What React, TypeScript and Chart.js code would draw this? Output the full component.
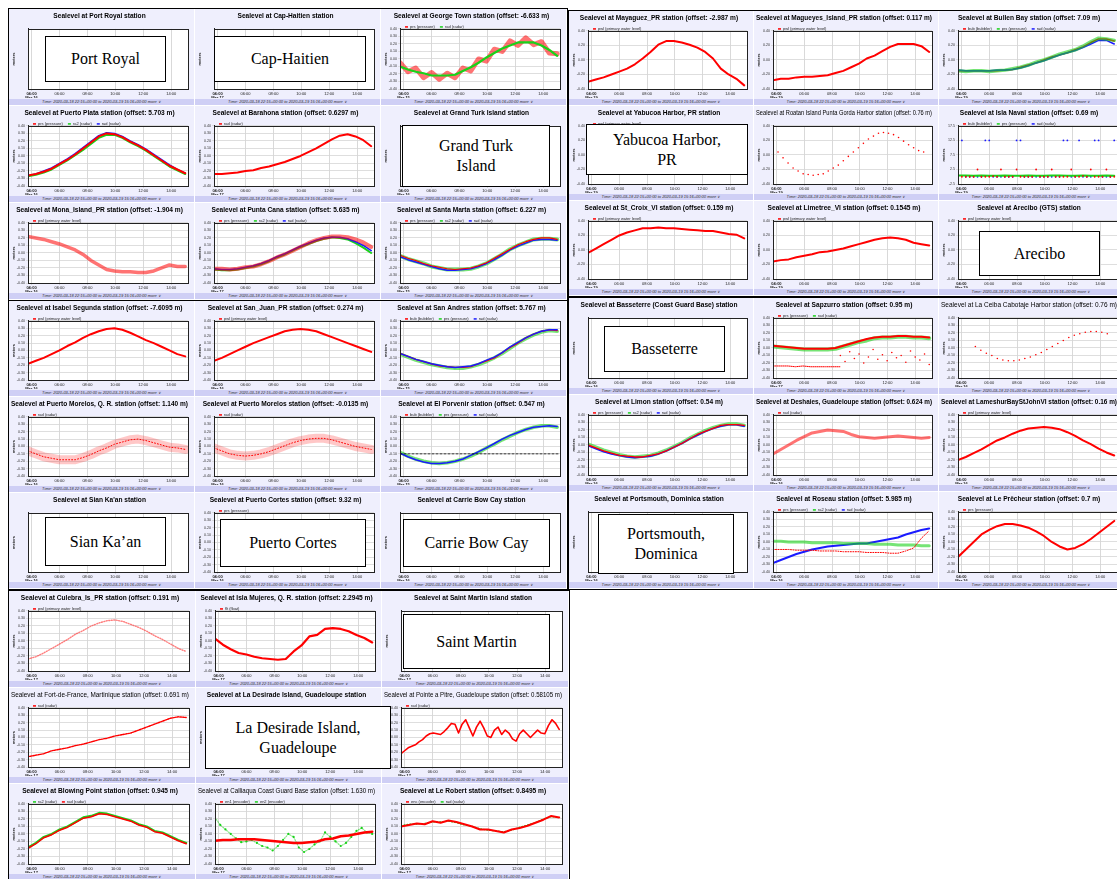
import React, { useEffect, useRef } from 'react';
import { Chart, registerables } from 'chart.js';

Chart.register(...registerables);
Chart.defaults.font.family = "'Liberation Sans', Arial, sans-serif";

// ---------- colours ----------
const RED = '#ff0000';
const RED_BAND = 'rgba(255,0,0,0.55)';
const RED_WIDE = 'rgba(255,0,0,0.22)';
const GREEN = '#19d219';
const GREEN_BAND = 'rgba(25,210,25,0.6)';
const BLUE = '#1a1aff';
const PINK = 'rgba(255,70,70,0.7)';
const CELL_BG = '#efeffd';
const FOOT_BG = '#cfcff5';

// ---------- axes ----------
const X_MIN = 3.75;
const X_MAX = 15.2;
const DATA_END = 15.0;
const HOUR_TICKS = [4, 6, 8, 10, 12, 14];
const Y_DEFAULT: [number, number, number] = [-0.4, 0.4, 0.1];
const Y_NAVAL: [number, number, number] = [-2.5, 17.5, 2.5];
const FOOTER = 'Time: 2020-03-18 22:15+00:00 to 2020-03-19 15:16+00:00        more \u2228';

// ---------- data (metres, evenly spaced in time) ----------
const georgeTownPrs = [-0.05, -0.17, -0.12, -0.25, -0.18, -0.27, -0.19, -0.25, -0.12, -0.16, 0.0, -0.03, 0.13, 0.1, 0.24, 0.18, 0.28, 0.19, 0.23, 0.08, 0.07];
const georgeTownRad = [-0.1, -0.14, -0.17, -0.19, -0.22, -0.22, -0.22, -0.21, -0.16, -0.11, -0.05, 0.02, 0.08, 0.14, 0.18, 0.22, 0.22, 0.22, 0.18, 0.12, 0.04];

const puertoPlataPrs = [-0.26, -0.24, -0.21, -0.17, -0.11, -0.05, 0.02, 0.1, 0.18, 0.26, 0.3, 0.29, 0.25, 0.19, 0.14, 0.08, 0.01, -0.06, -0.13, -0.18, -0.23];
const puertoPlataRa2 = [-0.27, -0.25, -0.22, -0.18, -0.12, -0.06, 0.01, 0.08, 0.16, 0.24, 0.28, 0.28, 0.24, 0.18, 0.13, 0.07, 0.0, -0.07, -0.14, -0.19, -0.24];
const puertoPlataRad = [-0.26, -0.24, -0.2, -0.16, -0.1, -0.04, 0.03, 0.11, 0.19, 0.27, 0.31, 0.3, 0.26, 0.2, 0.15, 0.09, 0.02, -0.05, -0.12, -0.18, -0.23];

const barahonaRad = [-0.24, -0.24, -0.23, -0.22, -0.2, -0.19, -0.16, -0.14, -0.11, -0.08, -0.04, 0.0, 0.05, 0.1, 0.16, 0.22, 0.27, 0.29, 0.26, 0.21, 0.13];

const monaPwl = [0.22, 0.2, 0.18, 0.15, 0.12, 0.08, 0.04, -0.02, -0.1, -0.16, -0.22, -0.24, -0.25, -0.25, -0.26, -0.26, -0.24, -0.2, -0.16, -0.18, -0.18];

const puntaCanaPrs = [-0.21, -0.21, -0.22, -0.21, -0.19, -0.18, -0.15, -0.11, -0.06, -0.02, 0.03, 0.08, 0.13, 0.17, 0.2, 0.22, 0.22, 0.21, 0.18, 0.14, 0.08];
const puntaCanaRa2 = [-0.22, -0.23, -0.23, -0.22, -0.2, -0.18, -0.15, -0.11, -0.06, -0.02, 0.03, 0.08, 0.12, 0.16, 0.19, 0.21, 0.2, 0.18, 0.13, 0.07, 0.0];
const puntaCanaRad = [-0.21, -0.22, -0.22, -0.21, -0.19, -0.17, -0.14, -0.1, -0.05, -0.01, 0.04, 0.09, 0.13, 0.17, 0.2, 0.21, 0.21, 0.19, 0.15, 0.1, 0.03];

const santaMartaPrs = [-0.03, -0.07, -0.1, -0.14, -0.17, -0.19, -0.21, -0.22, -0.21, -0.2, -0.17, -0.13, -0.07, -0.01, 0.05, 0.11, 0.15, 0.18, 0.2, 0.2, 0.18];
const santaMartaRa2 = [-0.04, -0.08, -0.11, -0.14, -0.18, -0.2, -0.22, -0.22, -0.22, -0.21, -0.18, -0.14, -0.08, -0.02, 0.05, 0.1, 0.14, 0.18, 0.19, 0.19, 0.18];
const santaMartaRad = [-0.05, -0.09, -0.12, -0.15, -0.18, -0.21, -0.23, -0.23, -0.22, -0.21, -0.18, -0.14, -0.09, -0.03, 0.04, 0.09, 0.13, 0.17, 0.18, 0.18, 0.17];

const mayaguezPwl = [-0.3, -0.27, -0.24, -0.2, -0.16, -0.12, -0.06, 0.02, 0.11, 0.21, 0.26, 0.26, 0.24, 0.21, 0.17, 0.11, 0.02, -0.12, -0.2, -0.26, -0.35];
const magueyesPwl = [-0.28, -0.26, -0.26, -0.24, -0.23, -0.23, -0.22, -0.21, -0.18, -0.15, -0.1, -0.05, 0.02, 0.06, 0.12, 0.18, 0.22, 0.22, 0.22, 0.19, 0.11];

const bullenBub = [-0.15, -0.15, -0.15, -0.15, -0.15, -0.15, -0.14, -0.13, -0.1, -0.07, -0.04, 0.0, 0.04, 0.07, 0.1, 0.14, 0.18, 0.24, 0.29, 0.29, 0.26];
const bullenPrs = [-0.15, -0.16, -0.15, -0.15, -0.16, -0.15, -0.14, -0.12, -0.1, -0.07, -0.03, 0.0, 0.04, 0.08, 0.11, 0.14, 0.19, 0.25, 0.3, 0.29, 0.27];
const bullenRad = [-0.14, -0.15, -0.15, -0.15, -0.15, -0.14, -0.14, -0.13, -0.11, -0.08, -0.04, -0.01, 0.03, 0.07, 0.1, 0.13, 0.17, 0.22, 0.27, 0.27, 0.22];

const roatanRad = [0.1, 0.04, -0.04, -0.11, -0.18, -0.22, -0.26, -0.27, -0.28, -0.27, -0.26, -0.22, -0.18, -0.14, -0.08, -0.02, 0.04, 0.1, 0.16, 0.22, 0.26, 0.3, 0.31, 0.3, 0.28, 0.24, 0.19, 0.14, 0.1, 0.06, 0.04];

const islaNavalBub = [2.5, 0, 0, 0, 0, 2.5, 0, 0, 0, 0.2, 0, 2.5, 0, 0, 0, 2.5, 0, 0, 0, 0, 2.5, 0, 0, 0, 2.5, 0, 0, 0, 0, 2.5, 0, 0, 0.3, 0, 2.5, 0, 0, 0, 2.5, 0, 0];
const islaNavalPrs = [0.4, 0.4, 0.3, 0.4, 0.3, 0.3, 0.4, 0.3, 0.3, 0.4, 0.3, 0.3, 0.4, 0.4, 0.3, 0.3, 0.4, 0.3, 0.3, 0.4, 0.3];
const islaNavalRad = [0, 12.5, 0, 0, 0, 0, 0, 12.5, 12.5, 0, 0, 0, 0, 0, 0, 12.5, 12.5, 0, 0, 0, 0, 0, 0, 0, 0, 0, 0, 12.5, 12.5, 0, 0, 12.5, 0, 0, 0, 12.5, 12.5, 0, 0, 0, 12.5];

const stCroixPwl = [-0.04, 0.02, 0.08, 0.14, 0.2, 0.24, 0.27, 0.3, 0.3, 0.31, 0.3, 0.3, 0.29, 0.28, 0.27, 0.26, 0.26, 0.24, 0.22, 0.21, 0.16];
const limetreePwl = [-0.16, -0.14, -0.13, -0.1, -0.08, -0.06, -0.03, -0.02, 0.0, 0.02, 0.05, 0.08, 0.11, 0.14, 0.16, 0.17, 0.16, 0.14, 0.1, 0.08, 0.06];

const isabelPwl = [-0.18, -0.14, -0.1, -0.05, 0.0, 0.06, 0.11, 0.17, 0.22, 0.26, 0.29, 0.3, 0.28, 0.24, 0.19, 0.14, 0.1, 0.05, 0.0, -0.05, -0.08];
const sanJuanPwl = [-0.14, -0.1, -0.05, 0.0, 0.05, 0.1, 0.14, 0.18, 0.22, 0.26, 0.28, 0.29, 0.28, 0.26, 0.22, 0.18, 0.14, 0.1, 0.06, 0.02, -0.02];

const sanAndresBub = [-0.04, -0.08, -0.12, -0.15, -0.18, -0.21, -0.22, -0.23, -0.23, -0.22, -0.18, -0.14, -0.1, -0.03, 0.04, 0.1, 0.17, 0.22, 0.26, 0.28, 0.27];
const sanAndresPrs = [-0.05, -0.09, -0.13, -0.16, -0.19, -0.21, -0.23, -0.24, -0.24, -0.22, -0.19, -0.15, -0.1, -0.04, 0.03, 0.1, 0.16, 0.21, 0.25, 0.27, 0.26];
const sanAndresRad = [-0.04, -0.08, -0.12, -0.15, -0.18, -0.2, -0.22, -0.23, -0.22, -0.21, -0.18, -0.13, -0.09, -0.03, 0.05, 0.11, 0.17, 0.22, 0.26, 0.28, 0.28];

const morelosQrRad = [-0.06, -0.1, -0.14, -0.16, -0.18, -0.18, -0.18, -0.15, -0.11, -0.06, -0.02, 0.03, 0.06, 0.09, 0.1, 0.08, 0.05, 0.02, -0.01, -0.02, -0.04];
const morelosRad = [-0.02, -0.06, -0.1, -0.12, -0.13, -0.12, -0.1, -0.07, -0.03, 0.01, 0.05, 0.08, 0.1, 0.11, 0.11, 0.09, 0.06, 0.03, 0.0, -0.02, -0.04];

const porvenirPrs = [-0.08, -0.13, -0.17, -0.2, -0.22, -0.23, -0.22, -0.2, -0.17, -0.13, -0.08, -0.02, 0.03, 0.09, 0.14, 0.19, 0.23, 0.26, 0.28, 0.28, 0.26];
const porvenirRad = [-0.09, -0.14, -0.18, -0.21, -0.23, -0.23, -0.22, -0.2, -0.17, -0.12, -0.07, -0.02, 0.04, 0.1, 0.15, 0.19, 0.23, 0.26, 0.27, 0.28, 0.27];
const porvenirRef = [-0.1, -0.1];

const sapzurroPrs = [0.03, 0.02, 0.01, 0.0, -0.01, -0.01, -0.01, -0.01, 0.0, 0.03, 0.06, 0.09, 0.12, 0.14, 0.15, 0.15, 0.16, 0.16, 0.15, 0.15, 0.14];
const sapzurroRad = [0.02, 0.01, 0.0, -0.01, -0.02, -0.02, -0.02, -0.02, -0.01, 0.02, 0.05, 0.08, 0.1, 0.13, 0.14, 0.14, 0.15, 0.15, 0.14, 0.14, 0.13];
const sapzurroLow = [-0.24, -0.24, -0.24, -0.25, -0.24, -0.25, -0.25, -0.25, -0.25, -0.25];
const sapzurroOut = [-0.1, -0.18, -0.05, -0.14, -0.08, -0.2, -0.12, -0.02, -0.15, -0.09, -0.17, -0.06, -0.13, -0.1, -0.19, -0.04, -0.12, -0.16, -0.08, -0.22];

const laCeibaRad = [0.02, -0.03, -0.07, -0.1, -0.14, -0.16, -0.17, -0.17, -0.16, -0.14, -0.12, -0.09, -0.06, -0.02, 0.02, 0.06, 0.1, 0.14, 0.17, 0.19, 0.21, 0.22, 0.22, 0.21, 0.19];

const limonPrs = [0.0, -0.04, -0.08, -0.11, -0.14, -0.15, -0.16, -0.16, -0.14, -0.12, -0.08, -0.03, 0.02, 0.08, 0.14, 0.18, 0.22, 0.26, 0.27, 0.27, 0.26];
const limonRa2 = [0.01, -0.03, -0.07, -0.1, -0.13, -0.15, -0.16, -0.15, -0.14, -0.11, -0.07, -0.02, 0.03, 0.09, 0.14, 0.19, 0.23, 0.26, 0.28, 0.28, 0.26];
const limonRad = [-0.01, -0.05, -0.09, -0.12, -0.14, -0.16, -0.17, -0.16, -0.15, -0.12, -0.08, -0.03, 0.02, 0.08, 0.13, 0.18, 0.22, 0.25, 0.27, 0.27, 0.25];

const deshaiesRad = [-0.12, -0.06, 0.0, 0.06, 0.11, 0.16, 0.18, 0.2, 0.19, 0.18, 0.14, 0.11, 0.1, 0.09, 0.1, 0.11, 0.12, 0.11, 0.1, 0.09, 0.1];
const lameshurPwl = [-0.2, -0.16, -0.11, -0.06, 0.0, 0.06, 0.1, 0.15, 0.19, 0.22, 0.23, 0.24, 0.23, 0.21, 0.17, 0.12, 0.06, 0.01, -0.05, -0.1, -0.14];

const roseauPrs = [-0.1, -0.1, -0.1, -0.11, -0.11, -0.11, -0.12, -0.12, -0.12, -0.13, -0.13, -0.13, -0.14, -0.14, -0.14, -0.15, -0.15, -0.12, -0.08, 0.05, 0.15];
const roseauRa2 = [0.01, 0.01, 0.0, 0.0, 0.0, -0.01, -0.01, -0.01, -0.01, -0.02, -0.02, -0.02, -0.02, -0.03, -0.03, -0.03, -0.04, -0.04, -0.04, -0.05, -0.05];
const roseauRad = [-0.28, -0.24, -0.2, -0.16, -0.13, -0.1, -0.08, -0.06, -0.05, -0.04, -0.03, -0.02, -0.02, 0.0, 0.02, 0.04, 0.06, 0.1, 0.13, 0.16, 0.18];

const precheurPrs = [-0.2, -0.1, 0.0, 0.1, 0.16, 0.21, 0.24, 0.24, 0.22, 0.19, 0.14, 0.08, 0.0, -0.06, -0.1, -0.08, -0.03, 0.04, 0.12, 0.2, 0.28];

const culebraPwl = [-0.24, -0.21, -0.16, -0.1, -0.04, 0.02, 0.09, 0.14, 0.2, 0.24, 0.27, 0.28, 0.26, 0.22, 0.18, 0.13, 0.07, 0.02, -0.04, -0.1, -0.14];
const islaMujeresFlt = [0.03, -0.05, -0.11, -0.16, -0.18, -0.21, -0.23, -0.24, -0.25, -0.24, -0.14, -0.06, 0.06, 0.08, 0.16, 0.17, 0.16, 0.13, 0.08, 0.04, -0.02];

const fortDeFranceRad = [-0.26, -0.24, -0.22, -0.18, -0.16, -0.14, -0.11, -0.09, -0.06, -0.03, -0.01, 0.02, 0.04, 0.06, 0.1, 0.14, 0.18, 0.22, 0.26, 0.28, 0.27];
const pointeAPitreRad = [-0.22, -0.18, -0.14, -0.12, -0.1, -0.06, -0.03, 0.02, 0.05, 0.06, 0.05, 0.04, 0.08, 0.13, 0.19, 0.18, 0.06, 0.18, 0.24, 0.13, 0.02, 0.14, 0.22, 0.13, 0.02, 0.0, 0.1, 0.14, 0.04, 0.1, 0.06, -0.02, -0.05, 0.05, 0.1, 0.05, 0.0, 0.05, 0.1, 0.06, 0.05, 0.16, 0.24, 0.19, 0.11];

const blowingRa2 = [-0.18, -0.12, -0.04, 0.0, 0.06, 0.1, 0.16, 0.22, 0.24, 0.28, 0.27, 0.24, 0.21, 0.18, 0.13, 0.1, 0.04, 0.02, -0.03, -0.08, -0.12];
const blowingRad = [-0.19, -0.13, -0.05, -0.01, 0.05, 0.09, 0.15, 0.21, 0.23, 0.27, 0.26, 0.23, 0.2, 0.17, 0.12, 0.09, 0.03, 0.01, -0.04, -0.09, -0.13];

const calliaquaEn1 = [-0.09, -0.08, -0.08, -0.07, -0.07, -0.07, -0.08, -0.09, -0.1, -0.11, -0.12, -0.12, -0.11, -0.1, -0.07, -0.06, -0.03, -0.02, 0.0, 0.02, 0.03];
const calliaquaEn2 = [0.22, 0.12, 0.06, 0.0, -0.06, -0.11, -0.1, -0.08, -0.12, -0.16, -0.18, -0.22, -0.16, -0.08, 0.0, -0.04, -0.18, -0.24, -0.2, -0.14, -0.1, 0.02, -0.04, -0.1, -0.16, -0.12, -0.04, 0.04, 0.08, 0.02, 0.0];

const leRobertEnc = [0.1, 0.12, 0.14, 0.13, 0.17, 0.15, 0.18, 0.16, 0.13, 0.1, 0.06, 0.06, 0.04, 0.02, 0.06, 0.08, 0.11, 0.15, 0.19, 0.24, 0.22];
const leRobertRad = [0.11, 0.13, 0.13, 0.14, 0.16, 0.16, 0.17, 0.15, 0.12, 0.1, 0.07, 0.05, 0.04, 0.03, 0.05, 0.09, 0.12, 0.15, 0.2, 0.23, 0.22];

const EMPTY: number[] = [];

// ---------- types ----------
type Kind = 'line' | 'dots' | 'band';
interface Ser {
  label: string;
  color: string;
  key?: string;
  data: number[];
  kind?: Kind;
  width?: number;
  radius?: number;
  t0?: number;
  t1?: number;
  hide?: boolean;
  dash?: number[];
  order?: number;
}
interface Spec {
  title: string;
  weight?: 'bold' | 'normal';
  series: Ser[];
  y?: [number, number, number];
  date: string;
  yTicks?: boolean;
}

const S = (label: string, color: string, data: number[], extra: Partial<Ser> = {}): Ser => ({ label, color, data, ...extra });

// ---------- block specs ----------
const BLOCK_A: Spec[] = [
  { title: 'Sealevel at Port Royal station', series: [], date: 'Mar 16', yTicks: false },
  { title: 'Sealevel at Cap-Haitien station', series: [], date: 'Mar 17', yTicks: false },
  {
    title: 'Sealevel at George Town station (offset: -6.633 m)', date: 'Mar 15',
    series: [
      S('prs (pressure)', RED_BAND, georgeTownPrs, { kind: 'band', width: 5, key: RED, order: 2 }),
      S('rad (radar)', GREEN, georgeTownRad, { width: 2.2, order: 1 }),
    ],
  },
  {
    title: 'Sealevel at Puerto Plata station (offset: 5.703 m)', date: 'Mar 16',
    series: [
      S('prs (pressure)', RED, puertoPlataPrs, { width: 2, order: 1 }),
      S('ra2 (radar)', GREEN, puertoPlataRa2, { width: 2, order: 2 }),
      S('rad (radar)', BLUE, puertoPlataRad, { width: 1.5, order: 3 }),
    ],
  },
  { title: 'Sealevel at Barahona station (offset: 0.6297 m)', date: 'Mar 17', series: [S('rad (radar)', RED, barahonaRad, { width: 2 })] },
  { title: 'Sealevel at Grand Turk Island station', series: [], date: 'Mar 16', yTicks: false },
  { title: 'Sealevel at Mona_Island_PR station (offset: -1.904 m)', date: 'Mar 16', series: [S('pwl (primary water level)', RED_BAND, monaPwl, { kind: 'band', width: 3.5, key: RED })] },
  {
    title: 'Sealevel at Punta Cana station (offset: 5.635 m)', date: 'Mar 17',
    series: [
      S('prs (pressure)', RED_BAND, puntaCanaPrs, { kind: 'band', width: 4, key: RED, order: 1 }),
      S('ra2 (radar)', GREEN, puntaCanaRa2, { width: 2, order: 3 }),
      S('rad (radar)', BLUE, puntaCanaRad, { width: 1.5, order: 2 }),
    ],
  },
  {
    title: 'Sealevel at Santa Marta station (offset: 6.227 m)', date: 'Mar 15',
    series: [
      S('prs (pressure)', RED, santaMartaPrs, { width: 1.2, order: 1 }),
      S('ra2 (radar)', GREEN_BAND, santaMartaRa2, { kind: 'band', width: 4, key: GREEN, order: 3 }),
      S('rad (radar)', BLUE, santaMartaRad, { width: 1.4, order: 2 }),
    ],
  },
];

const BLOCK_B: Spec[] = [
  { title: 'Sealevel at Mayaguez_PR station (offset: -2.987 m)', date: 'Mar 19', series: [S('pwl (primary water level)', RED, mayaguezPwl, { width: 2 })] },
  { title: 'Sealevel at Magueyes_Island_PR station (offset: 0.117 m)', date: 'Mar 19', series: [S('pwl (primary water level)', RED, magueyesPwl, { width: 2 })] },
  {
    title: 'Sealevel at Bullen Bay station (offset: 7.09 m)', date: 'Mar 19',
    series: [
      S('bub (bubbler)', RED, bullenBub, { width: 1.5, order: 3 }),
      S('prs (pressure)', GREEN_BAND, bullenPrs, { kind: 'band', width: 3.5, key: GREEN, order: 1 }),
      S('rad (radar)', BLUE, bullenRad, { width: 1.6, order: 2 }),
    ],
  },
  { title: 'Sealevel at Yabucoa Harbor, PR station', date: 'Mar 19', series: [S('pwl (primary water level)', RED, EMPTY)] },
  { title: 'Sealevel at Roatan Island Punta Gorda Harbor station (offset: 0.76 m)', weight: 'normal', date: 'Mar 19', series: [S('', RED, roatanRad, { kind: 'dots', radius: 0.8, t1: 14.6, hide: true })] },
  {
    title: 'Sealevel at Isla Naval station (offset: 0.69 m)', date: 'Mar 19', y: Y_NAVAL,
    series: [
      S('bub (bubbler)', RED, islaNavalBub, { kind: 'dots', radius: 0.9 }),
      S('prs (pressure)', GREEN, islaNavalPrs, { width: 2 }),
      S('rad (radar)', BLUE, islaNavalRad, { kind: 'dots', radius: 0.9 }),
    ],
  },
  { title: 'Sealevel at St_Croix_VI station (offset: 0.159 m)', date: 'Mar 19', series: [S('pwl (primary water level)', RED, stCroixPwl, { width: 2 })] },
  { title: 'Sealevel at Limetree_VI station (offset: 0.1545 m)', date: 'Mar 19', series: [S('pwl (primary water level)', RED, limetreePwl, { width: 2 })] },
  { title: 'Sealevel at Arecibo (GTS) station', date: 'Mar 19', series: [S('pwl (primary water level)', RED, EMPTY)] },
];

const BLOCK_C: Spec[] = [
  { title: 'Sealevel at Isabel Segunda station (offset: -7.6095 m)', date: 'Mar 16', series: [S('pwl (primary water level)', RED, isabelPwl, { width: 2 })] },
  { title: 'Sealevel at San_Juan_PR station (offset: 0.274 m)', date: 'Mar 16', series: [S('pwl (primary water level)', RED, sanJuanPwl, { width: 2 })] },
  {
    title: 'Sealevel at San Andres station (offset: 5.767 m)', date: 'Mar 15',
    series: [
      S('bub (bubbler)', RED, sanAndresBub, { width: 1.3, order: 2 }),
      S('prs (pressure)', GREEN_BAND, sanAndresPrs, { kind: 'band', width: 3.5, key: GREEN, order: 3 }),
      S('rad (radar)', BLUE, sanAndresRad, { width: 1.4, order: 1 }),
    ],
  },
  {
    title: 'Sealevel at Puerto Morelos, Q. R. station (offset: 1.140 m)', date: 'Mar 16',
    series: [
      S('rad (radar)', RED_WIDE, morelosQrRad, { kind: 'band', width: 9, key: RED }),
      S('', RED, morelosQrRad, { width: 1, dash: [1, 2], hide: true }),
    ],
  },
  {
    title: 'Sealevel at Puerto Morelos station (offset: -0.0135 m)', date: 'Mar 16',
    series: [
      S('rad (radar)', RED_WIDE, morelosRad, { kind: 'band', width: 9, key: RED }),
      S('', RED, morelosRad, { width: 1, dash: [1, 2], hide: true }),
    ],
  },
  {
    title: 'Sealevel at El Porvenir station (offset: 0.547 m)', date: 'Mar 15',
    series: [
      S('bub (bubbler)', RED, EMPTY),
      S('prs (pressure)', GREEN_BAND, porvenirPrs, { kind: 'band', width: 3.5, key: GREEN, order: 2 }),
      S('rad (radar)', BLUE, porvenirRad, { width: 1.5, order: 1 }),
      S('', '#000', porvenirRef, { width: 0.8, dash: [2, 2], t0: X_MIN, t1: X_MAX, hide: true }),
    ],
  },
  { title: "Sealevel at Sian Ka'an station", series: [], date: 'Mar 16', yTicks: false },
  { title: 'Sealevel at Puerto Cortes station (offset: 9.32 m)', date: 'Mar 16', series: [S('prs (pressure)', RED, EMPTY)] },
  { title: 'Sealevel at Carrie Bow Cay station', series: [], date: 'Mar 16', yTicks: false },
];

const BLOCK_D: Spec[] = [
  { title: 'Sealevel at Basseterre (Coast Guard Base) station', series: [], date: 'Mar 16', yTicks: false },
  {
    title: 'Sealevel at Sapzurro station (offset: 0.95 m)', date: 'Mar 17',
    series: [
      S('prs (pressure)', RED, sapzurroPrs, { width: 2, order: 1 }),
      S('rad (radar)', GREEN_BAND, sapzurroRad, { kind: 'band', width: 4, key: GREEN, order: 2 }),
      S('', RED, sapzurroLow, { width: 1, dash: [1, 1], t1: 8.6, hide: true }),
      S('', RED, sapzurroOut, { kind: 'dots', radius: 0.8, t0: 8.6, hide: true }),
    ],
  },
  { title: 'Sealevel at La Ceiba Cabotaje Harbor station (offset: 0.76 m)', weight: 'normal', date: 'Mar 16', series: [S('', RED, laCeibaRad, { kind: 'dots', radius: 0.8, t0: 5.0, t1: 14.5, hide: true })] },
  {
    title: 'Sealevel at Limon station (offset: 0.54 m)', date: 'Mar 16',
    series: [
      S('prs (pressure)', RED, limonPrs, { width: 1.3, order: 1 }),
      S('ra2 (radar)', GREEN_BAND, limonRa2, { kind: 'band', width: 3.5, key: GREEN, order: 3 }),
      S('rad (radar)', BLUE, limonRad, { width: 1.6, order: 2 }),
    ],
  },
  { title: 'Sealevel at Deshaies, Guadeloupe station (offset: 0.624 m)', date: 'Mar 16', series: [S('rad (radar)', RED_BAND, deshaiesRad, { kind: 'band', width: 3, key: RED })] },
  { title: 'Sealevel at LameshurBayStJohnVI station (offset: 0.16 m)', date: 'Mar 16', series: [S('pwl (primary water level)', RED, lameshurPwl, { width: 2 })] },
  { title: 'Sealevel at Portsmouth, Dominica station', series: [], date: 'Mar 16', yTicks: false },
  {
    title: 'Sealevel at Roseau station (offset: 5.985 m)', date: 'Mar 16',
    series: [
      S('prs (pressure)', RED, roseauPrs, { kind: 'line', width: 1, dash: [1, 1.5] }),
      S('ra2 (radar)', GREEN_BAND, roseauRa2, { kind: 'band', width: 3, key: GREEN }),
      S('rad (radar)', BLUE, roseauRad, { width: 2 }),
    ],
  },
  { title: 'Sealevel at Le Pr\u00eacheur station (offset: 0.7 m)', date: 'Mar 16', series: [S('prs (pressure)', RED, precheurPrs, { width: 2 })] },
];

const BLOCK_E: Spec[] = [
  { title: 'Sealevel at Culebra_Is_PR station (offset: 0.191 m)', date: 'Mar 17', series: [S('pwl (primary water level)', PINK, culebraPwl, { width: 1.4, dash: [1, 1.5], key: RED })] },
  { title: 'Sealevel at Isla Mujeres, Q. R. station (offset: 2.2945 m)', date: 'Mar 17', series: [S('flt (float)', RED, islaMujeresFlt, { width: 2.2 })] },
  { title: 'Sealevel at Saint Martin Island station', series: [], date: 'Mar 17', yTicks: false },
  { title: 'Sealevel at Fort-de-France, Martinique station (offset: 0.691 m)', weight: 'normal', date: 'Mar 17', series: [S('rad (radar)', RED, fortDeFranceRad, { width: 1.4, dash: [1.5, 1] })] },
  { title: 'Sealevel at La Desirade Island, Guadeloupe station', series: [], date: 'Mar 17', yTicks: false },
  { title: 'Sealevel at Pointe a Pitre, Guadeloupe station (offset: 0.58105 m)', weight: 'normal', date: 'Mar 17', series: [S('rad (radar)', RED, pointeAPitreRad, { width: 1.6 })] },
  {
    title: 'Sealevel at Blowing Point station (offset: 0.945 m)', date: 'Mar 17',
    series: [
      S('ra2 (radar)', GREEN, blowingRa2, { width: 2.2, order: 2 }),
      S('rad (radar)', RED, blowingRad, { width: 1.5, order: 1 }),
    ],
  },
  {
    title: 'Sealevel at Calliaqua Coast Guard Base station (offset: 1.630 m)', weight: 'normal', date: 'Mar 17',
    series: [
      S('en1 (encoder)', RED, calliaquaEn1, { width: 2.5, order: 1 }),
      S('en2 (encoder)', 'rgba(25,210,25,0.55)', calliaquaEn2, { width: 1.2, dash: [1, 1.5], key: GREEN, order: 3 }),
      S('', GREEN, calliaquaEn2, { kind: 'dots', radius: 1.1, order: 2, hide: true }),
    ],
  },
  {
    title: 'Sealevel at Le Robert station (offset: 0.8495 m)', date: 'Mar 17',
    series: [
      S('enc (encoder)', RED, leRobertEnc, { width: 2, order: 1 }),
      S('rad (radar)', GREEN, leRobertRad, { width: 1.2, dash: [1, 2], order: 2 }),
    ],
  },
];

const BLOCKS = [
  { x: 8, y: 8, w: 560, h: 293, cells: BLOCK_A },
  { x: 568, y: 10, w: 557, h: 287, cells: BLOCK_B },
  { x: 8, y: 300, w: 560, h: 290, cells: BLOCK_C },
  { x: 568, y: 297, w: 557, h: 293, cells: BLOCK_D },
  { x: 8, y: 590, w: 562, h: 292, cells: BLOCK_E },
];

const BOXES = [
  { text: 'Port Royal', x: 45, y: 36, w: 121, h: 46 },
  { text: 'Cap-Haitien', x: 214, y: 36, w: 152, h: 46 },
  { text: 'Grand Turk\nIsland', x: 402, y: 125, w: 148, h: 62 },
  { text: 'Yabucoa Harbor,\nPR', x: 586, y: 124, w: 162, h: 51 },
  { text: 'Arecibo', x: 979, y: 231, w: 121, h: 45 },
  { text: 'Basseterre', x: 604, y: 326, w: 121, h: 46 },
  { text: "Sian Ka\u2019an", x: 45, y: 517, w: 121, h: 49 },
  { text: 'Puerto Cortes', x: 220, y: 519, w: 146, h: 48 },
  { text: 'Carrie Bow Cay', x: 403, y: 519, w: 147, h: 48 },
  { text: 'Portsmouth,\nDominica', x: 598, y: 514, w: 136, h: 60 },
  { text: 'Saint Martin', x: 403, y: 614, w: 147, h: 55 },
  { text: 'La Desirade Island,\nGuadeloupe', x: 205, y: 706, w: 186, h: 63 },
];

// ---------- chart helpers ----------
const plotFrame = {
  id: 'plotFrame',
  beforeDraw(chart: any) {
    const { ctx, chartArea: a } = chart;
    ctx.save();
    ctx.fillStyle = '#ffffff';
    ctx.fillRect(a.left, a.top, a.right - a.left, a.bottom - a.top);
    ctx.restore();
  },
  afterDraw(chart: any) {
    const { ctx, chartArea: a } = chart;
    ctx.save();
    ctx.strokeStyle = '#222';
    ctx.lineWidth = 1;
    ctx.strokeRect(Math.round(a.left) + 0.5, Math.round(a.top) + 0.5, Math.round(a.right - a.left), Math.round(a.bottom - a.top));
    ctx.restore();
  },
};

const legendFit = {
  id: 'legendFit',
  beforeLayout(chart: any) {
    const lg = chart.legend;
    if (lg && !lg.__patched) {
      const orig = lg.fit.bind(lg);
      lg.fit = function () {
        orig();
        this.height = 9;
      };
      lg.__patched = true;
    }
  },
};

function toDataset(s: Ser) {
  const t0 = s.t0 ?? X_MIN;
  const t1 = s.t1 ?? DATA_END;
  const n = s.data.length;
  const pts = s.data.map((v, i) => ({ x: n > 1 ? t0 + ((t1 - t0) * i) / (n - 1) : t0, y: v }));
  const kind = s.kind ?? 'line';
  return {
    label: s.label,
    data: pts,
    hideLegend: !!s.hide,
    legendColor: s.key ?? s.color,
    borderColor: s.color,
    backgroundColor: s.key ?? s.color,
    borderWidth: s.width ?? (kind === 'band' ? 4 : 1.4),
    pointRadius: kind === 'dots' ? s.radius ?? 0.9 : 0,
    pointBorderWidth: 0,
    pointBackgroundColor: s.color,
    showLine: kind !== 'dots',
    borderDash: s.dash ?? [],
    tension: 0,
    order: s.order ?? 0,
    borderCapStyle: 'round',
    borderJoinStyle: 'round',
  };
}

function hh(v: number) {
  return (v < 10 ? '0' : '') + v + ':00';
}

function legendLabels(chart: any) {
  const base = (Chart.defaults.plugins.legend.labels as any).generateLabels(chart);
  return base
    .filter((it: any) => !chart.data.datasets[it.datasetIndex].hideLegend)
    .sort((a: any, b: any) => a.datasetIndex - b.datasetIndex)
    .map((it: any) => {
      const c = chart.data.datasets[it.datasetIndex].legendColor;
      return { ...it, fillStyle: c, strokeStyle: c, lineWidth: 0, lineDash: [] };
    });
}

function buildConfig(spec: Spec): any {
  const [yMin, yMax, yStep] = spec.y ?? Y_DEFAULT;
  const showY = spec.yTicks !== false;
  return {
    type: 'line',
    data: { datasets: spec.series.map(toDataset) },
    options: {
      responsive: false,
      animation: false,
      devicePixelRatio: 1,
      events: [],
      layout: { padding: { left: 2, right: 6, top: 0, bottom: 0 } },
      plugins: {
        title: {
          display: true,
          text: spec.title,
          color: '#000',
          font: { size: 6.6, weight: spec.weight ?? 'bold' },
          padding: { top: 3, bottom: 0 },
        },
        legend: {
          display: true,
          align: 'start',
          fullSize: false,
          labels: {
            font: { size: 4 },
            color: '#222',
            boxWidth: 3,
            boxHeight: 1.5,
            padding: 5,
            generateLabels: legendLabels,
          },
        },
        tooltip: { enabled: false },
      },
      scales: {
        x: {
          type: 'linear',
          min: X_MIN,
          max: X_MAX,
          afterBuildTicks: (sc: any) => {
            sc.ticks = HOUR_TICKS.map((v) => ({ value: v }));
          },
          afterFit: (sc: any) => {
            sc.height = 9;
          },
          ticks: {
            autoSkip: false,
            maxRotation: 0,
            padding: 0,
            color: '#222',
            font: (c: any) => ({ size: 4, weight: c.index === 0 ? 'bold' : 'normal' }),
            callback: (v: any, i: number) => (i === 0 ? [hh(Number(v)), spec.date] : hh(Number(v))),
          },
          grid: { color: '#cfcfcf', lineWidth: 0.8, tickLength: 2 },
          border: { color: '#222', width: 1 },
        },
        y: {
          min: yMin,
          max: yMax,
          afterFit: (sc: any) => {
            sc.width = 17;
          },
          ticks: {
            display: showY,
            stepSize: yStep,
            padding: 1,
            color: '#333',
            font: { size: 3.6 },
            callback: (v: any) => (yStep >= 1 ? Number(v).toFixed(1) : Number(v).toFixed(2)),
          },
          title: { display: true, text: 'meters', color: '#222', font: { size: 4, weight: 'bold' }, padding: 0 },
          grid: { display: showY, color: '#d6d6d6', lineWidth: 0.8, tickLength: 2 },
          border: { color: '#222', width: 1 },
        },
      },
    },
    plugins: [plotFrame, legendFit],
  };
}

function Cell({ spec, left, top, w, h }: { spec: Spec; left: number; top: number; w: number; h: number }) {
  const ref = useRef<HTMLCanvasElement>(null);
  const ch = h - 7;
  useEffect(() => {
    if (!ref.current) return;
    const chart = new Chart(ref.current, buildConfig(spec));
    return () => chart.destroy();
  }, [spec]);
  return (
    <div style={{ position: 'absolute', left, top, width: w, height: h, background: CELL_BG, overflow: 'hidden' }}>
      <canvas ref={ref} width={w} height={ch} style={{ display: 'block', width: w, height: ch }} />
      <div
        style={{
          position: 'absolute',
          left: 0,
          bottom: 0,
          width: '100%',
          height: 6,
          background: FOOT_BG,
          fontSize: 4,
          lineHeight: '6px',
          textAlign: 'center',
          whiteSpace: 'nowrap',
          color: '#333',
          fontFamily: "'Liberation Sans', Arial, sans-serif",
          fontStyle: 'italic',
        }}
      >
        {FOOTER}
      </div>
    </div>
  );
}

function Block({ b }: { b: { x: number; y: number; w: number; h: number; cells: Spec[] } }) {
  const cw = (b.w - 2) / 3;
  const chh = (b.h - 2) / 3;
  return (
    <div
      style={{
        position: 'absolute',
        left: b.x,
        top: b.y,
        width: b.w,
        height: b.h,
        border: '1px solid #000',
        boxSizing: 'border-box',
        background: '#fff',
      }}
    >
      {b.cells.map((spec, i) => {
        const col = i % 3;
        const row = Math.floor(i / 3);
        const left = Math.round(col * cw);
        const top = Math.round(row * chh);
        const w = Math.round((col + 1) * cw) - left - 1;
        const h = Math.round((row + 1) * chh) - top - 1;
        return <Cell key={i} spec={spec} left={left} top={top} w={w} h={h} />;
      })}
    </div>
  );
}

export default function App() {
  return (
    <div style={{ position: 'absolute', left: 0, top: 0, width: 1117, height: 879, overflow: 'hidden', background: '#fff' }}>
      {BLOCKS.map((b, i) => (
        <Block key={i} b={b} />
      ))}
      {BOXES.map((bx, i) => (
        <div
          key={'box' + i}
          style={{
            position: 'absolute',
            left: bx.x,
            top: bx.y,
            width: bx.w,
            height: bx.h,
            boxSizing: 'border-box',
            border: '1.5px solid #000',
            background: '#fff',
            display: 'flex',
            alignItems: 'center',
            justifyContent: 'center',
            textAlign: 'center',
            whiteSpace: 'pre-line',
            fontFamily: "'Liberation Serif', 'Times New Roman', serif",
            fontSize: 16,
            lineHeight: '20px',
            color: '#000',
          }}
        >
          {bx.text}
        </div>
      ))}
    </div>
  );
}
